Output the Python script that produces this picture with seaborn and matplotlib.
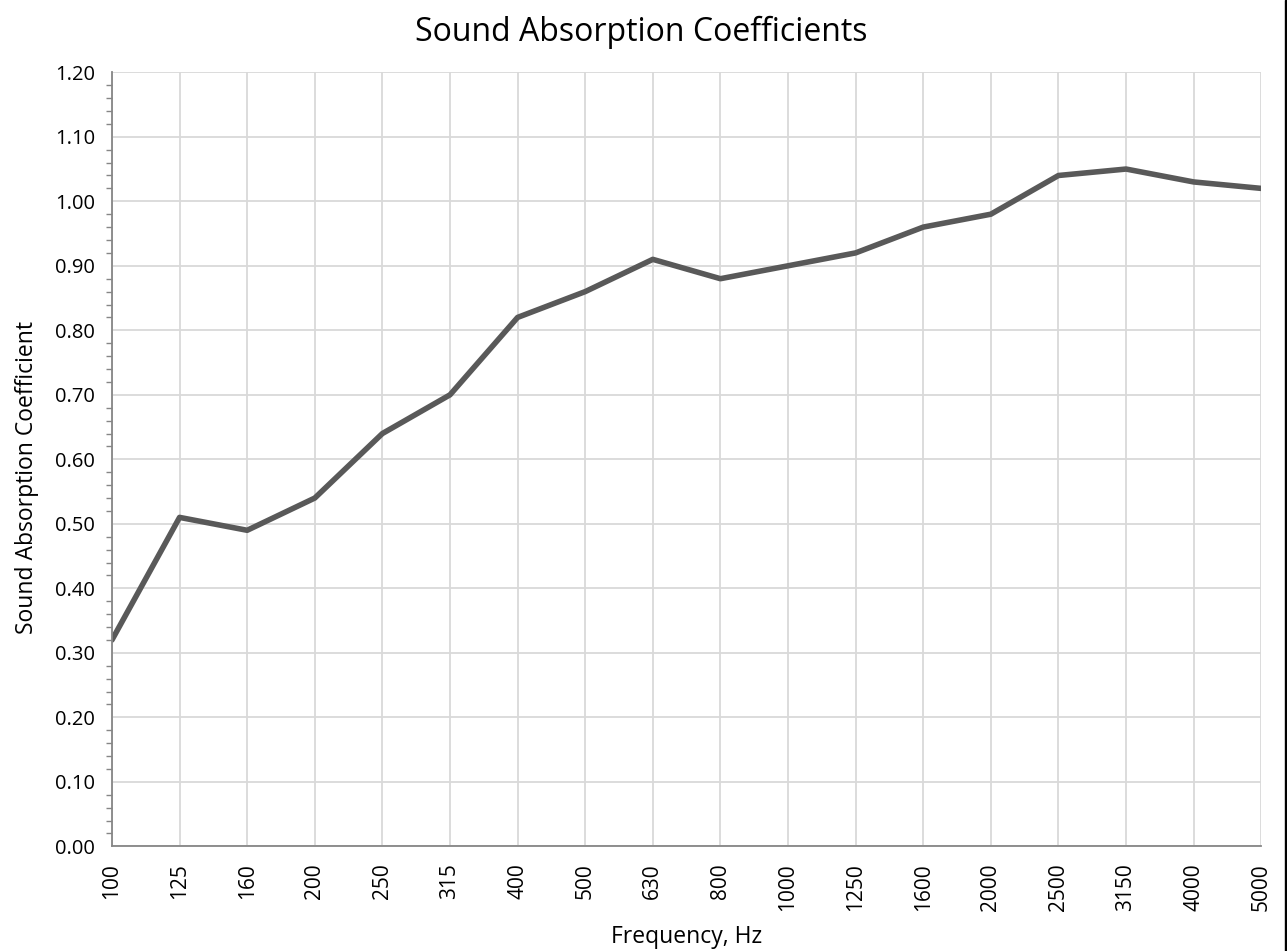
import matplotlib
matplotlib.use('Agg')
import matplotlib.pyplot as plt
import seaborn as sns
import pandas as pd
from matplotlib.ticker import MultipleLocator
from matplotlib.patches import Rectangle

# chart data
freqs = ['100', '125', '160', '200', '250', '315', '400', '500', '630', '800',
         '1000', '1250', '1600', '2000', '2500', '3150', '4000', '5000']
coeffs = [0.32, 0.51, 0.49, 0.54, 0.64, 0.70, 0.82, 0.86, 0.91, 0.88,
          0.90, 0.92, 0.96, 0.98, 1.04, 1.05, 1.03, 1.02]

df = pd.DataFrame({'pos': range(len(freqs)), 'freq': freqs, 'coef': coeffs})

sns.set_theme(style='white')
plt.rcParams['font.family'] = ['Open Sans', 'DejaVu Sans']

fig = plt.figure(figsize=(12.87, 9.51), dpi=100)
ax = fig.add_axes([0.087, 0.110, 0.893, 0.814])

sns.lineplot(data=df, x='pos', y='coef', color='#595959', linewidth=4.0, ax=ax)

ax.set_xlim(0, len(freqs) - 1)
ax.set_ylim(0, 1.2)
ax.set_xticks(df['pos'])
ax.set_xticklabels(freqs, rotation=90, fontsize=15)
ax.yaxis.set_minor_locator(MultipleLocator(0.02))
ax.set_yticks([i / 10 for i in range(13)])
ax.set_yticklabels([f'{i / 10:.2f}' for i in range(13)], fontsize=14.5)

ax.grid(True, which='major', color='#d9d9d9', linewidth=1.3)
ax.set_axisbelow(True)
for s in ['top', 'right']:
    ax.spines[s].set_visible(False)
for s in ['left', 'bottom']:
    ax.spines[s].set_color('#868686')
    ax.spines[s].set_linewidth(1.3)

ax.tick_params(axis='both', which='major', direction='out', length=7, width=1.2,
               color='#868686', labelcolor='black', pad=5)
ax.tick_params(axis='y', which='minor', direction='out', length=4.5, width=1.0,
               color='#868686', left=True)
ax.tick_params(axis='x', which='minor', bottom=False)
ax.set_xlabel('')
ax.set_ylabel('')

fig.text(0.4985, 1 - 32 / 951, 'Sound Absorption Coefficients', fontsize=23,
         color='black', ha='center', va='center')
fig.text(687 / 1287, 1 - 937 / 951, 'Frequency, Hz', fontsize=16.5,
         color='black', ha='center', va='center')
fig.text(27 / 1287, 1 - 477 / 951, 'Sound Absorption Coefficient', fontsize=16.5,
         color='black', ha='center', va='center', rotation=90)

# dark strip along the right edge of the original image
fig.patches.append(Rectangle((1 - 2.5 / 1287, 0), 2.5 / 1287, 1,
                             transform=fig.transFigure, color='black'))

fig.savefig('out.png', dpi=100)
